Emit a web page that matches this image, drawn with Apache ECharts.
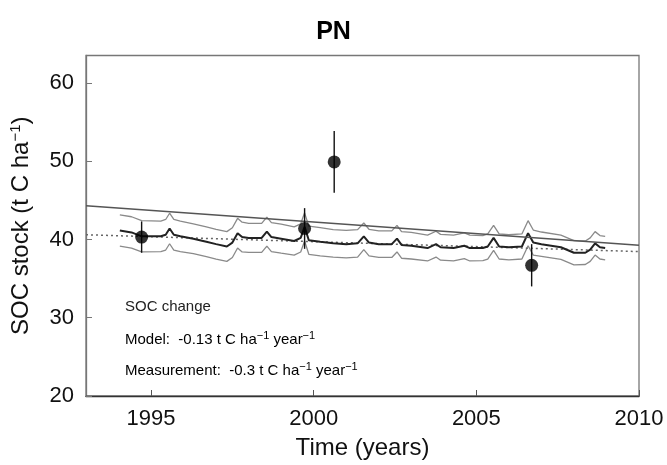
<!DOCTYPE html>
<html><head><meta charset="utf-8">
<script src="https://cdn.jsdelivr.net/npm/echarts@6/dist/echarts.min.js"></script>
<style>html,body{margin:0;padding:0;background:#fff}#c{width:667px;height:465px}</style>
</head><body><div id="c"></div>
<script>
// ---- data ----
const xTicks = [1995, 2000, 2005, 2010];
const yTicks = [20, 30, 40, 50, 60];
const measYears = [1994.71, 1999.72, 2000.63, 2006.70];
const measValues = [40.3, 41.4, 49.9, 36.7];
const measErr = [2.0, 2.6, 3.95, 2.7];
const trendYears = [1993, 2010];
const measTrend = [44.3, 39.25];
const modelTrend = [40.6, 38.45];
const modelYears = [1994.04,1994.4,1994.71,1995.3,1995.45,1995.57,1995.7,1995.9,1996.3,1996.7,1997.0,1997.33,1997.5,1997.66,1997.8,1998.0,1998.4,1998.56,1998.7,1999.0,1999.4,1999.6,1999.72,1999.85,2000.2,2000.6,2001.0,2001.35,2001.54,2001.7,2002.0,2002.4,2002.56,2002.7,2003.0,2003.5,2003.76,2003.9,2004.3,2004.63,2004.8,2005.2,2005.35,2005.53,2005.7,2006.0,2006.4,2006.59,2006.75,2007.0,2007.6,2008.0,2008.35,2008.5,2008.65,2008.8,2008.96];
const modelMean = [41.15,40.9,40.4,40.4,40.6,41.4,40.6,40.4,40.1,39.7,39.4,39.1,39.6,40.8,40.3,40.2,40.2,41.0,40.3,40.1,39.8,40.2,41.6,39.9,39.7,39.5,39.4,39.5,40.4,39.6,39.4,39.4,40.1,39.3,39.2,38.9,39.4,39.0,38.9,39.2,38.9,38.9,39.1,40.2,39.1,39.0,39.1,40.8,39.6,39.4,39.0,38.3,38.3,38.7,39.5,39.0,38.9];
const modelUpper = [43.15,42.9,42.4,42.35,42.55,43.35,42.55,42.35,42.0,41.6,41.3,41.0,41.5,42.7,42.2,42.05,42.05,42.85,42.15,41.95,41.6,42.0,43.4,41.7,41.5,41.25,41.15,41.25,42.1,41.3,41.1,41.1,41.8,41.0,40.9,40.55,41.05,40.65,40.55,40.85,40.55,40.5,40.7,41.8,40.7,40.6,40.7,42.4,41.2,40.95,40.55,39.85,39.8,40.2,41.0,40.5,40.4];
const modelLower = [39.15,38.9,38.4,38.45,38.65,39.45,38.65,38.45,38.2,37.8,37.5,37.2,37.7,38.9,38.4,38.35,38.35,39.15,38.45,38.25,38.0,38.4,39.8,38.1,37.9,37.75,37.65,37.75,38.7,37.9,37.7,37.7,38.4,37.6,37.5,37.25,37.75,37.35,37.25,37.55,37.25,37.3,37.5,38.6,37.5,37.4,37.5,39.2,38.0,37.85,37.45,36.75,36.8,37.2,38.0,37.5,37.4];

const FONT = 'Liberation Sans';
const zip = (a, b) => a.map((v, i) => [v, b[i]]);

const chart = echarts.init(document.getElementById('c'), null, {renderer: 'canvas'});
const supStyle = {fontSize: 11, padding: [0, 0, 8, 0], fontFamily: FONT, color: '#222'};
chart.setOption({
  animation: false,
  backgroundColor: '#fff',
  title: {text: 'PN', left: 'center', top: 15, textStyle: {fontFamily: FONT, fontWeight: 'bold', fontSize: 25, color: '#000'}},
  grid: {left: 85, right: 28, top: 55.5, bottom: 59, show: true, borderColor: '#777', borderWidth: 1.3},
  xAxis: {
    type: 'value', min: 1993, max: 2010,
    axisLine: {show: true, lineStyle: {color: '#333', width: 1.3}},
    axisTick: {show: true, inside: true, length: 6, customValues: xTicks, lineStyle: {color: '#555'}},
    axisLabel: {customValues: xTicks, formatter: v => String(v), fontFamily: FONT, fontSize: 22, color: '#111', margin: 12},
    splitLine: {show: false},
    name: 'Time (years)', nameLocation: 'middle', nameGap: 40,
    nameTextStyle: {fontFamily: FONT, fontSize: 24, color: '#111'}
  },
  yAxis: {
    type: 'value', min: 20, max: 63.5,
    axisLine: {show: true, lineStyle: {color: '#777', width: 1.3}},
    axisTick: {show: true, inside: true, length: 6, customValues: yTicks, lineStyle: {color: '#777'}},
    axisLabel: {customValues: yTicks, formatter: v => String(v), fontFamily: FONT, fontSize: 22, color: '#111', margin: 12},
    splitLine: {show: false},
    name: '{n|SOC stock (t C ha}{s|−1}{n|)}', nameLocation: 'middle', nameGap: 52, nameRotate: 90,
    nameTextStyle: {rich: {n: {fontFamily: FONT, fontSize: 24, color: '#111'}, s: {fontFamily: FONT, fontSize: 15, color: '#111', padding: [0, 0, 11, 0]}}}
  },
  graphic: [
    {type: 'text', left: 125, top: 299, style: {text: 'SOC change', fontFamily: FONT, fontSize: 15, fill: '#222'}},
    {type: 'text', left: 125, top: 330, style: {
      text: '{n|Model:  -0.13 t C ha}{s|−1}{n| year}{s|−1}',
      rich: {n: {fontFamily: FONT, fontSize: 15, color: '#222'}, s: supStyle}}},
    {type: 'text', left: 125, top: 361, style: {
      text: '{n|Measurement:  -0.3 t C ha}{s|−1}{n| year}{s|−1}',
      rich: {n: {fontFamily: FONT, fontSize: 15, color: '#222'}, s: supStyle}}}
  ],
  series: [
    {type: 'line', data: zip(modelYears, modelUpper), symbol: 'none', lineStyle: {color: '#8a8a8a', width: 1.3}, z: 2},
    {type: 'line', data: zip(modelYears, modelLower), symbol: 'none', lineStyle: {color: '#8a8a8a', width: 1.3}, z: 2},
    {type: 'line', data: zip(trendYears, modelTrend), symbol: 'none', lineStyle: {color: '#666', width: 1.5, type: [2, 3]}, z: 3},
    {type: 'line', data: zip(modelYears, modelMean), symbol: 'none', lineStyle: {color: '#222', width: 2}, z: 4},
    {type: 'line', data: zip(trendYears, measTrend), symbol: 'none', lineStyle: {color: '#555', width: 1.6}, z: 5},
    {type: 'custom', z: 6,
      data: measYears.map((y, i) => [y, measValues[i] - measErr[i], measValues[i] + measErr[i]]),
      renderItem: (params, api) => {
        const p1 = api.coord([api.value(0), api.value(1)]);
        const p2 = api.coord([api.value(0), api.value(2)]);
        return {type: 'line', shape: {x1: p1[0], y1: p1[1], x2: p2[0], y2: p2[1]}, style: {stroke: '#111', lineWidth: 1.4}};
      }
    },
    {type: 'scatter', data: zip(measYears, measValues), symbol: 'circle', symbolSize: 13, itemStyle: {color: '#000'}, z: 7}
  ]
});
</script></body></html>
